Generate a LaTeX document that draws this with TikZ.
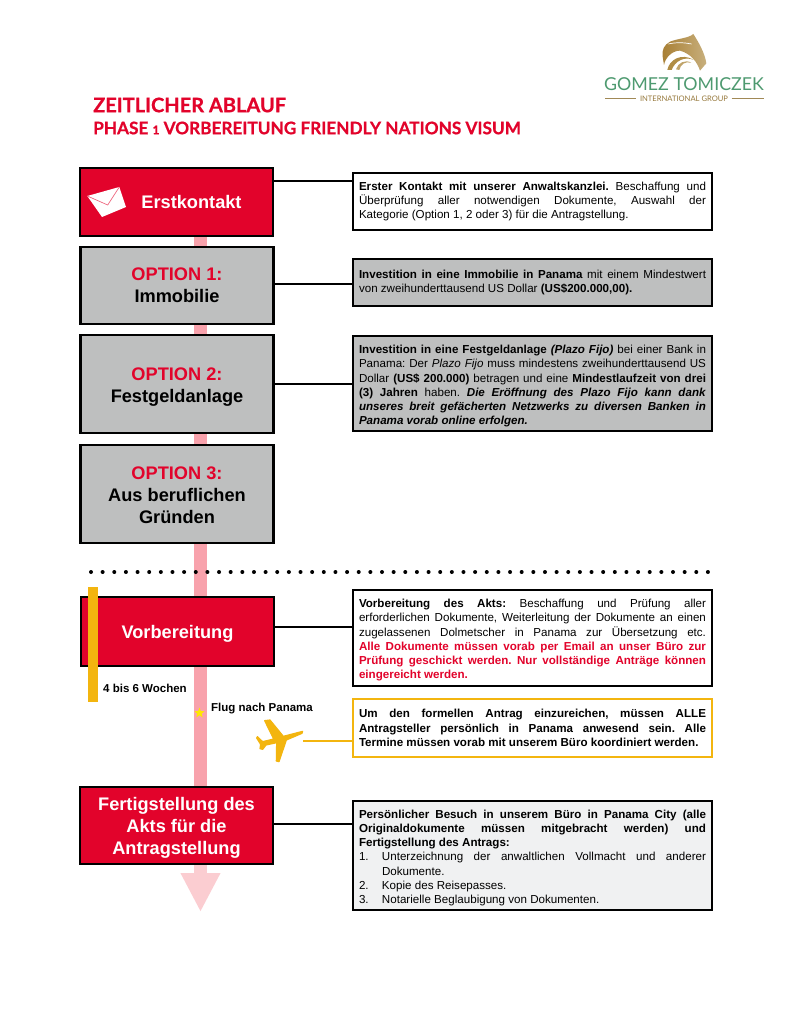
\documentclass[tikz,border=0pt]{standalone}
\usepackage{fontspec}
\setmainfont{Liberation Sans}
\newfontfamily\titlefont[BoldFeatures={FakeBold=0.7}]{Lato}
\usepackage{tikz}
\usetikzlibrary{arrows.meta}
\usetikzlibrary{shapes.geometric}
\definecolor{zred}{HTML}{E2032B}
\definecolor{zgrey}{HTML}{BEBFBF}
\definecolor{zpink}{HTML}{F8A2AC}
\definecolor{zpale}{HTML}{FBCDD1}
\definecolor{zyellow}{HTML}{F3B50F}
\definecolor{zlight}{HTML}{F0F1F2}
\definecolor{zgold}{HTML}{B08D45}
\definecolor{zbronze}{HTML}{A87F34}
\definecolor{zgreen}{HTML}{4E9A70}
\newcommand{\jl}[1]{\makebox[347pt][s]{#1}}
\newcommand{\lastl}[1]{\makebox[347pt][l]{#1}}
\newcommand{\itemnr}[1]{\makebox[23pt][l]{#1}}
\newcommand{\drop}[1]{\rule{0pt}{#1}}

\begin{document}
\begin{tikzpicture}[x=1pt,y=-1pt,
        stepbox/.style={draw=black,line width=2.8pt,minimum width=193pt,align=center,inner sep=0pt,
            font=\fontsize{18.2}{22}\selectfont\bfseries},
        redbox/.style={stepbox,fill=zred,text=white},
        greybox/.style={stepbox,fill=zgrey,text=black},
        infobox/.style={draw=black,line width=2.6pt,minimum width=359pt,align=left,inner sep=0pt,
            font=\fontsize{11.6}{14.2}\selectfont\frenchspacing},
        link/.style={black,line width=2pt},
        yellowlink/.style={zyellow,line width=2pt},
        timeline/.style={zpink,line width=12.5pt},
        timetip/.style={zpale,line width=12.5pt,-{Triangle[width=37pt,length=39pt]}}]
    \useasboundingbox (0,0) rectangle (792,1024);
    \fill[white] (0,0) rectangle (792,1024);

    \coordinate (timetop) at (200.5,237);
    \coordinate (timemid) at (200.5,830);
    \coordinate (timeend) at (200.5,912);
    \draw[timeline] (timetop) -- (timemid);
    \draw[timetip] (timemid) -- (timeend);

    \begin{scope}[shift={(590,20)},x=0.3333pt,y=-0.3333pt]
        \shade[left color=zbronze,right color=zgold!70!white]
            (218,110) .. controls (215,90) and (222,75) .. (240,65)
            .. controls (265,55) and (295,55) .. (310,42)
            .. controls (325,65) and (345,100) .. (349,130) -- (330,152)
            .. controls (322,125) and (300,100) .. (270,92)
            .. controls (245,92) and (225,115) .. (222,135) -- cycle;
        \draw[white,line width=0.7pt] (235,72) .. controls (260,66) and (285,68) .. (305,72);
        \fill[zgold] (232,150) .. controls (238,118) and (275,98) .. (312,120)
            .. controls (285,108) and (255,122) .. (245,150) -- cycle;
        \fill[zgold!80!white] (258,148) .. controls (264,128) and (285,118) .. (304,128)
            .. controls (285,124) and (272,132) .. (268,150) -- cycle;
    \end{scope}
    \node (logoname) at (684,84) [text=zgreen,font=\titlefont\fontsize{17.8}{20}\selectfont] {GOMEZ TOMICZEK};
    \node (logosub) at (684,99) [text=zgold!85!black,font=\titlefont\fontsize{7.6}{8}\selectfont] {INTERNATIONAL GROUP};
    \coordinate (logolinea) at (605,99);
    \coordinate (logolineb) at (764,99);
    \draw[zgold!70!gray,line width=1pt] (logolinea) -- (logosub.west);
    \draw[zgold!70!gray,line width=1pt] (logosub.east) -- (logolineb);

    \node (title) at (93,105) [anchor=west,inner sep=0pt,text=zred,font=\titlefont\fontsize{20}{20}\selectfont\bfseries] {ZEITLICHER ABLAUF};
    \node (subtitle) at (93,128) [anchor=west,inner sep=0pt,text=zred,font=\titlefont\fontsize{17.2}{18}\selectfont\bfseries]
        {PHASE {\fontsize{12}{12}\selectfont 1} VORBEREITUNG FRIENDLY NATIONS VISUM};

    \node (erst) at (176.5,202) [redbox,minimum height=68pt] {\hspace*{30pt}Erstkontakt};
    \node (opta) at (177,285.5) [greybox,minimum height=77pt] {\textcolor{zred}{OPTION 1:}\\Immobilie};
    \node (optb) at (177,384) [greybox,minimum height=98pt] {\drop{19pt}\textcolor{zred}{OPTION 2:}\\Festgeldanlage};
    \node (optc) at (177,494) [greybox,minimum height=98pt] {\drop{15pt}\textcolor{zred}{OPTION 3:}\\Aus beruflichen\\Gründen};
    \node (vorb) at (177.5,631.5) [redbox,minimum height=69pt] {\drop{18pt}Vorbereitung};
    \node (fertig) at (176.5,825.5) [redbox,minimum height=77pt] {\drop{17pt}Fertigstellung des\\Akts für die\\Antragstellung};

    \fill[white] (87.3,196) -- (119.3,187) -- (126,207) -- (102,217) -- cycle;
    \draw[zred!60!white,line width=0.7pt] (87.3,196) -- (107.7,205) -- (119.3,187);

    \node (erstinfo) at (532.5,201.5) [infobox,minimum height=57pt]
        {\jl{\textbf{Erster Kontakt mit unserer Anwaltskanzlei.} Beschaffung und}\\
         \jl{Überprüfung aller notwendigen Dokumente, Auswahl der}\\
         \lastl{Kategorie (Option 1, 2 oder 3) für die Antragstellung.}};
    \node (optainfo) at (532.5,282.5) [infobox,fill=zgrey,minimum height=47pt]
        {\jl{\textbf{Investition in eine Immobilie in Panama} mit einem Mindestwert}\\
         \lastl{von zweihunderttausend US Dollar \textbf{(US\$200.000,00).}}};
    \node (optbinfo) at (532.5,383.5) [infobox,fill=zgrey,minimum height=95pt]
        {\drop{14pt}\jl{\textbf{Investition in eine Festgeldanlage \textit{(Plazo Fijo)}} bei einer Bank in}\\
         \jl{Panama: Der \textit{Plazo Fijo} muss mindestens zweihunderttausend US}\\
         \jl{Dollar \textbf{(US\$ 200.000)} betragen und eine \textbf{Mindestlaufzeit von drei}}\\
         \jl{\textbf{(3) Jahren} haben. \textbf{\textit{Die Eröffnung des Plazo Fijo kann dank}}}\\
         \jl{\textbf{\textit{unseres breit gefächerten Netzwerks zu diversen Banken in}}}\\
         \lastl{\textbf{\textit{Panama vorab online erfolgen.}}}};
    \node (vorbinfo) at (532.5,638) [infobox,minimum height=96pt]
        {\drop{13pt}\jl{\textbf{Vorbereitung des Akts:} Beschaffung und Prüfung aller}\\
         \jl{erforderlichen Dokumente, Weiterleitung der Dokumente an einen}\\
         \jl{zugelassenen Dolmetscher in Panama zur Übersetzung etc.}\\
         \jl{\textcolor{zred}{\textbf{Alle Dokumente müssen vorab per Email an unser Büro zur}}}\\
         \jl{\textcolor{zred}{\textbf{Prüfung geschickt werden. Nur vollständige Anträge können}}}\\
         \lastl{\textcolor{zred}{\textbf{eingereicht werden.}}}};
    \node (flyinfo) at (532.5,728) [infobox,draw=zyellow,minimum height=58pt]
        {\jl{\textbf{Um den formellen Antrag einzureichen, müssen ALLE}}\\
         \jl{\textbf{Antragsteller persönlich in Panama anwesend sein. Alle}}\\
         \lastl{\textbf{Termine müssen vorab mit unserem Büro koordiniert werden.}}};
    \node (fertiginfo) at (532.5,855.5) [infobox,fill=zlight,minimum height=109pt]
        {\drop{13pt}\jl{\textbf{Persönlicher Besuch in unserem Büro in Panama City (alle}}\\
         \jl{\textbf{Originaldokumente müssen mitgebracht werden) und}}\\
         \lastl{\textbf{Fertigstellung des Antrags:}}\\
         \itemnr{1.}\makebox[324pt][s]{Unterzeichnung der anwaltlichen Vollmacht und anderer}\\
         \itemnr{}Dokumente.\\
         \itemnr{2.}Kopie des Reisepasses.\\
         \itemnr{3.}Notarielle Beglaubigung von Dokumenten.};

    \draw[link] ([yshift=21pt]erst.east) -- ([yshift=21pt]erst.east -| erstinfo.west);
    \draw[link] ([yshift=2pt]opta.east) -- ([yshift=2pt]opta.east -| optainfo.west);
    \draw[link] (optb.east) -- (optb.east -| optbinfo.west);
    \draw[link] ([yshift=5pt]vorb.east) -- ([yshift=5pt]vorb.east -| vorbinfo.west);
    \draw[link] ([yshift=2pt]fertig.east) -- ([yshift=2pt]fertig.east -| fertiginfo.west);

    \coordinate (dotsa) at (91,572);
    \coordinate (dotsb) at (709,572);
    \draw[line width=4pt,line cap=round,dash pattern=on 0pt off 11.64pt] (dotsa) -- (dotsb);

    \fill[zyellow] (88,587) rectangle (97.5,702);
    \node (weeks) at (103,688) [anchor=west,inner sep=0pt,font=\fontsize{11.5}{12}\selectfont\bfseries] {4 bis 6 Wochen};
    \node (flight) at (211,709) [anchor=west,inner sep=0pt,font=\fontsize{11.5}{12}\selectfont\bfseries] {Flug nach Panama};
    \node (star) at (199.5,713) [star,star points=5,star point ratio=2.4,fill=yellow!90!orange,inner sep=0pt,minimum size=11pt] {};

    \begin{scope}[shift={(240,705)},x=0.3333pt,y=-0.3333pt]
        \filldraw[zyellow,line width=1.2pt,line join=round] (188,79) -- (130,94) -- (90,45) -- (74,47) -- (101,102) -- (68,110)
            -- (52,95) -- (50,99) -- (62,118) -- (60,131) -- (68,133) -- (78,120)
            -- (110,113) -- (109,168) -- (117,170) -- (139,105) -- (186,85) -- cycle;
    \end{scope}
    \coordinate (planeend) at (303,741);
    \draw[yellowlink] (planeend) -- (planeend -| flyinfo.west);
\end{tikzpicture}
\end{document}
